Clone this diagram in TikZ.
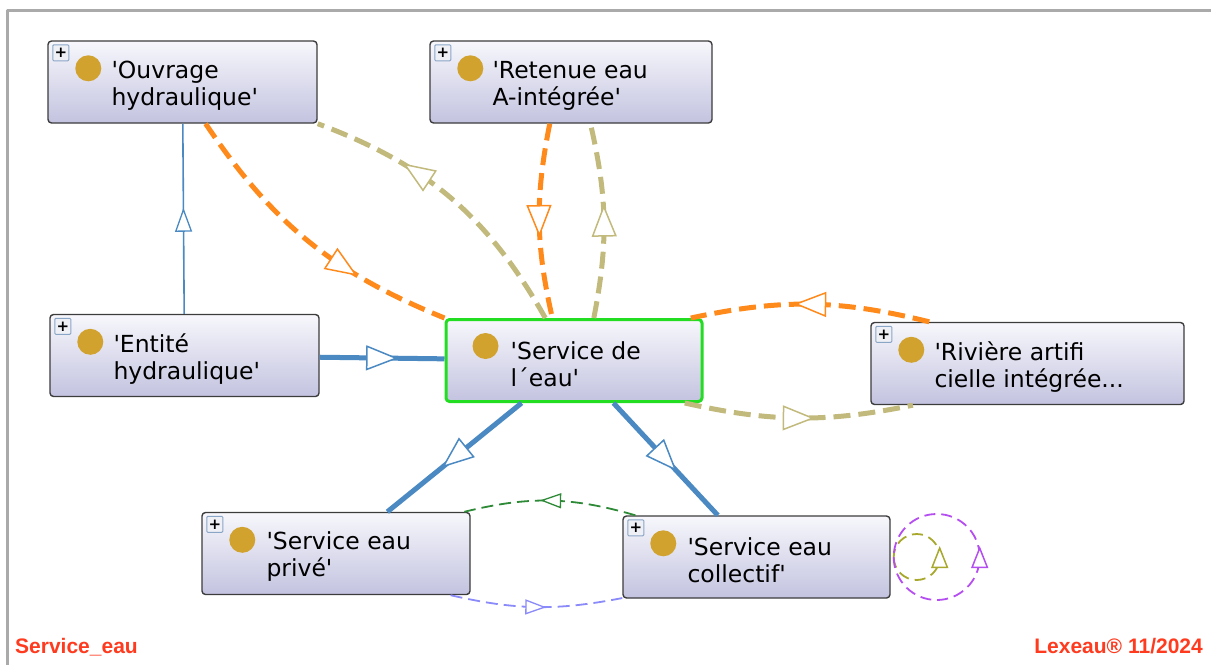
\documentclass[tikz,border=0pt]{standalone}
\usepackage{fontspec}
\newfontfamily\boxfont{DejaVu Sans}
\newfontfamily\markfont{Liberation Sans}
\usetikzlibrary{arrows.meta,decorations.markings}

\definecolor{boxline}{HTML}{3C3C3C}
\definecolor{boxtop}{HTML}{F7F7FC}
\definecolor{boxbot}{HTML}{C3C3E0}
\definecolor{dotcol}{HTML}{D2A22E}
\definecolor{plusline}{HTML}{8AA6C6}
\definecolor{plusfill}{HTML}{EEF0F6}
\definecolor{selgreen}{HTML}{22DD22}
\definecolor{subblue}{HTML}{4B89C3}
\definecolor{proporange}{HTML}{FF8A1C}
\definecolor{propolive}{HTML}{C2BA7C}
\definecolor{propgreen}{HTML}{2E8A36}
\definecolor{proplav}{HTML}{8A8AFA}
\definecolor{loopolive}{HTML}{A8A82C}
\definecolor{looppurple}{HTML}{B44EF0}
\definecolor{footred}{HTML}{FF3B1F}
\definecolor{framegray}{HTML}{AAAAAA}

\tikzset{
  cls/.style={draw=boxline, line width=1.4pt, rounded corners=3.5pt,
    top color=boxtop, bottom color=boxbot, minimum height=82pt,
    inner sep=0pt},
  clstext/.style={anchor=west, align=left, inner sep=0pt,
    font=\boxfont\fontsize{23.5}{27}\selectfont},
  clsdot/.style={circle, fill=dotcol, minimum size=26pt, inner sep=0pt},
  clsplus/.style={draw=plusline, fill=plusfill, line width=1pt,
    minimum size=16pt, inner sep=0pt, rounded corners=1pt,
    font=\boxfont\bfseries\fontsize{15}{15}\selectfont},
  bigtip/.tip={Triangle[fill=white,length=32pt 0,width=25pt 0,line width=1.5pt]},
  midtip/.tip={Triangle[fill=white,length=24pt 0,width=17pt 0,line width=1.3pt]},
  smalltip/.tip={Triangle[fill=white,length=21pt 0,width=15pt 0,line width=1.3pt]},
  looptip/.tip={Triangle[fill=white,length=22pt 0,width=17pt 0,line width=1.5pt]},
  bigmid/.style={postaction={decorate}, decoration={markings,
    mark=at position #1 with {\arrow[xshift=16pt]{bigtip}}}},
  bigmid/.default=0.5,
  thinmid/.style={postaction={decorate}, decoration={markings,
    mark=at position 0.5 with {\arrow[xshift=11pt]{midtip}}}},
  smallmid/.style={postaction={decorate}, decoration={markings,
    mark=at position 0.5 with {\arrow[xshift=10pt]{smalltip}}}},
  loopmid/.style={postaction={decorate}, decoration={markings,
    mark=at position 0.5 with {\arrow[xshift=11pt]{looptip}}}},
  subthick/.style={subblue, line width=5pt, bigmid},
  subthin/.style={subblue, line width=1.6pt, thinmid},
  propthick/.style={line width=5pt, dash pattern=on 17pt off 8pt, bigmid=#1},
  propthick/.default=0.5,
  propthin/.style={line width=1.8pt, dash pattern=on 12pt off 6pt, smallmid},
  selfloop/.style={line width=1.8pt, dash pattern=on 11pt off 6pt, loopmid},
  footer/.style={inner sep=0pt, text=footred,
    font=\markfont\bfseries\fontsize{21}{21}\selectfont},
}

\begin{document}
\begin{tikzpicture}[x=1pt,y=-1pt,line join=round]
  \useasboundingbox (0,0) rectangle (1211,665);

  % window frame
  \draw[framegray, line width=3pt] (7,665) -- (7,10) -- (1211,10);

  % class boxes
  \node[cls, minimum width=269pt] (ouv) at (182.5,82) {};
  \node[cls, minimum width=282pt] (ret) at (571,82) {};
  \node[cls, minimum width=269pt] (ent) at (184.5,355.5) {};
  \node[cls, minimum width=256pt, draw=selgreen, line width=3pt] (svc)
    at (574,360.5) {};
  \node[cls, minimum width=313pt] (riv) at (1027.5,363.5) {};
  \node[cls, minimum width=268pt] (priv) at (336,553.5) {};
  \node[cls, minimum width=267pt] (col) at (756.5,557) {};

  % expand icons
  \node[clsplus] (ouvP) at ([xshift=13.5pt,yshift=-12.5pt]ouv.north west) {+};
  \node[clsplus] (retP) at ([xshift=13.5pt,yshift=-12.5pt]ret.north west) {+};
  \node[clsplus] (entP) at ([xshift=13.5pt,yshift=-12.5pt]ent.north west) {+};
  \node[clsplus] (rivP) at ([xshift=13.5pt,yshift=-12.5pt]riv.north west) {+};
  \node[clsplus] (privP) at ([xshift=13.5pt,yshift=-12.5pt]priv.north west) {+};
  \node[clsplus] (colP) at ([xshift=13.5pt,yshift=-12.5pt]col.north west) {+};

  % class dots
  \node[clsdot] (ouvD) at ([xshift=41pt,yshift=-28pt]ouv.north west) {};
  \node[clsdot] (retD) at ([xshift=41pt,yshift=-28pt]ret.north west) {};
  \node[clsdot] (entD) at ([xshift=41pt,yshift=-28pt]ent.north west) {};
  \node[clsdot] (svcD) at ([xshift=41pt,yshift=-28pt]svc.north west) {};
  \node[clsdot] (rivD) at ([xshift=41pt,yshift=-28pt]riv.north west) {};
  \node[clsdot] (privD) at ([xshift=41pt,yshift=-28pt]priv.north west) {};
  \node[clsdot] (colD) at ([xshift=41pt,yshift=-28pt]col.north west) {};

  % class names
  \node[clstext] (ouvT) at ([xshift=64pt,yshift=-3.5pt]ouv.west)
    {'Ouvrage\\hydraulique'};
  \node[clstext] (retT) at ([xshift=63pt,yshift=-3.5pt]ret.west)
    {'Retenue eau\\A-intégrée'};
  \node[clstext] (entT) at ([xshift=64pt,yshift=-3.5pt]ent.west)
    {'Entité\\hydraulique'};
  \node[clstext] (svcT) at ([xshift=66pt,yshift=-3.5pt]svc.west)
    {'Service de\\l´eau'};
  \node[clstext] (rivT) at ([xshift=64pt,yshift=-3.5pt]riv.west)
    {'Rivière artifi\\cielle intégrée...};
  \node[clstext] (privT) at ([xshift=65pt,yshift=-3.5pt]priv.west)
    {'Service eau\\privé'};
  \node[clstext] (colT) at ([xshift=65pt,yshift=-3.5pt]col.west)
    {'Service eau\\collectif'};

  % subclass links
  \draw[subthin] (ent) -- (ouv);
  \draw[subthick] (ent) -- (svc);
  \draw[subthick] (svc) -- (priv);
  \draw[subthick] (svc) -- (col);

  % object properties
  \draw[propthick=0.64, proporange] (ouv.-61) to[bend right=17]
    (svc.north west);
  \draw[propthick=0.64, propolive] (svc.124) to[bend right=20]
    (ouv.south east);
  \draw[propthick, proporange] (ret.-117) to[bend right=12] (svc.117);
  \draw[propthick, propolive] (svc.65) to[bend right=12] (ret.-65);
  \draw[propthick, proporange] (riv.157) to[bend right=13] (svc.20);
  \draw[propthick, propolive] (svc.-21) to[bend right=12] (riv.-160);
  \draw[propthin, propgreen] (col.161) to[bend right=15] (priv.18);
  \draw[propthin, proplav] (priv.-20) to[bend right=12] (col.-163);

  % self loops on the collective service
  \draw[selfloop, loopolive] ([xshift=3pt]col.east)
    arc[start angle=180, end angle=-180, radius=23];
  \draw[selfloop, looppurple] ([xshift=3pt]col.east)
    arc[start angle=180, end angle=-180, radius=43];

  % footer
  \node[footer, anchor=base west] (title) at (15,653) {Service\_eau};
  \node[footer, anchor=base east] (stamp) at (1203,653) {Lexeau® 11/2024};
\end{tikzpicture}
\end{document}
